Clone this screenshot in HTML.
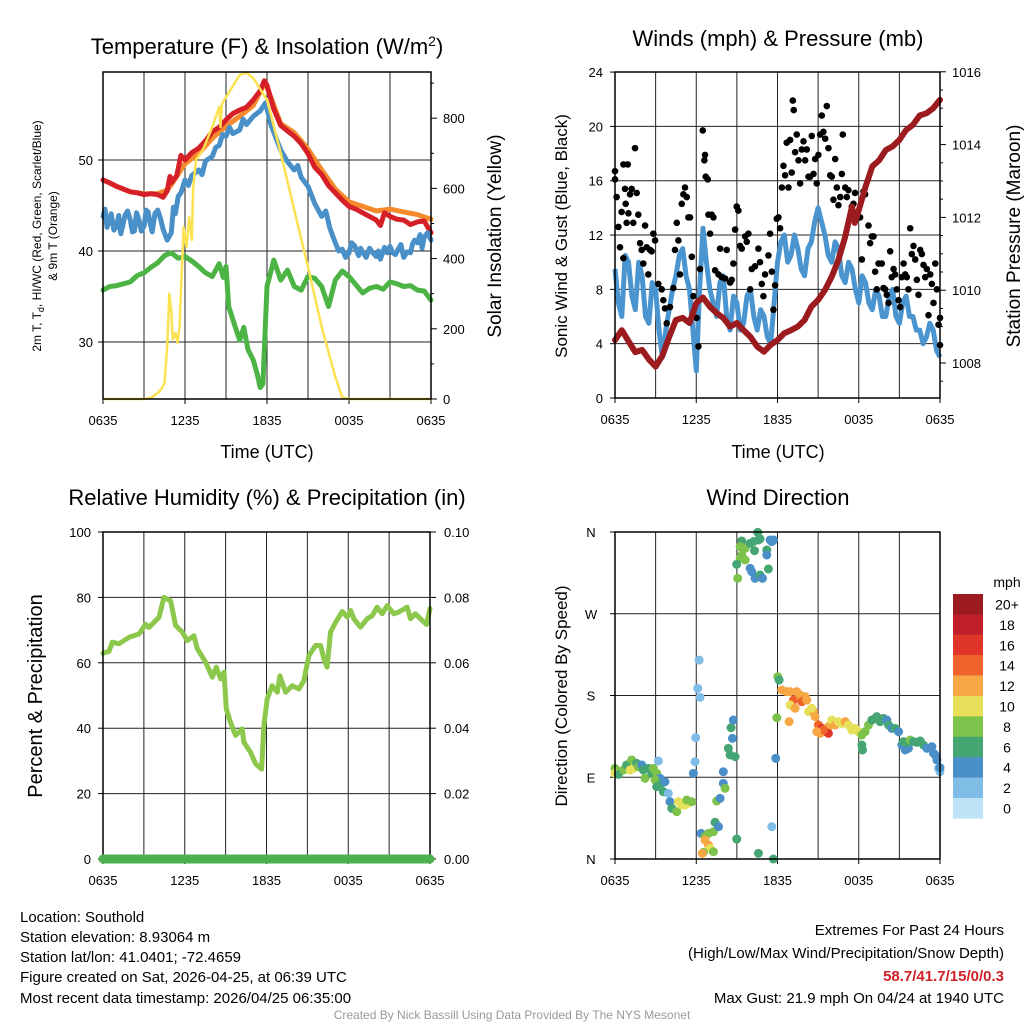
<!DOCTYPE html>
<html><head><meta charset="utf-8">
<style>
html,body{margin:0;padding:0;background:#fff;}
svg{display:block;font-family:"Liberation Sans",Arial,sans-serif;}
</style></head>
<body>
<svg id="chart" width="1024" height="1024" viewBox="0 0 1024 1024" xmlns="http://www.w3.org/2000/svg">
<rect x="0" y="0" width="1024" height="1024" fill="#fff"/>
<g id="g1"></g>
<g id="g2"></g>
<g id="g3"></g>
<g id="g4"></g>
<text x="267" y="54" font-size="22" text-anchor="middle">Temperature (F) &amp; Insolation (W/m<tspan dy="-8" font-size="14">2</tspan><tspan dy="8">)</tspan></text>
<text x="778" y="46" font-size="22" text-anchor="middle">Winds (mph) &amp; Pressure (mb)</text>
<text x="267" y="505" font-size="22" text-anchor="middle">Relative Humidity (%) &amp; Precipitation (in)</text>
<text x="778" y="505" font-size="22" text-anchor="middle">Wind Direction</text>
<text x="267" y="458" font-size="18" text-anchor="middle">Time (UTC)</text>
<text x="778" y="458" font-size="18" text-anchor="middle">Time (UTC)</text>
<text transform="translate(41,236) rotate(-90)" font-size="12" text-anchor="middle">2m T, T<tspan dy="3" font-size="9">d</tspan><tspan dy="-3">, HI/WC (Red, Green, Scarlet/Blue)</tspan></text>
<text transform="translate(57,236) rotate(-90)" font-size="12" text-anchor="middle">&amp; 9m T (Orange)</text>
<text transform="translate(501,236) rotate(-90)" font-size="19" text-anchor="middle">Solar Insolation (Yellow)</text>
<text transform="translate(567,236) rotate(-90)" font-size="17" text-anchor="middle">Sonic Wind &amp; Gust (Blue, Black)</text>
<text transform="translate(1020,236) rotate(-90)" font-size="19" text-anchor="middle">Station Pressure (Maroon)</text>
<text transform="translate(42,696) rotate(-90)" font-size="20" text-anchor="middle">Percent &amp; Precipitation</text>
<text transform="translate(567,696) rotate(-90)" font-size="17" text-anchor="middle">Direction (Colored By Speed)</text>
<g font-size="15">
<text x="20" y="922">Location: Southold</text>
<text x="20" y="942">Station elevation: 8.93064 m</text>
<text x="20" y="962">Station lat/lon: 41.0401; -72.4659</text>
<text x="20" y="982">Figure created on Sat, 2026-04-25, at 06:39 UTC</text>
<text x="20" y="1003">Most recent data timestamp: 2026/04/25 06:35:00</text>
</g>
<g font-size="15" text-anchor="end">
<text x="1004" y="935">Extremes For Past 24 Hours</text>
<text x="1004" y="958">(High/Low/Max Wind/Precipitation/Snow Depth)</text>
<text x="1004" y="981" fill="#d02027" font-weight="bold">58.7/41.7/15/0/0.3</text>
<text x="1004" y="1003">Max Gust: 21.9 mph On 04/24 at 1940 UTC</text>
</g>
<text x="512" y="1019" font-size="12" fill="#999" text-anchor="middle">Created By Nick Bassill Using Data Provided By The NYS Mesonet</text>
</svg>
<script>
// ---- data ----
const xTickHours = [0,6,12,18,24];
const xTickLabels = ["0635","1235","1835","0035","0635"];
const tempTicks = [30,40,50];
const solarTicks = [0,200,400,600,800];
const windTicks = [0,4,8,12,16,20,24];
const pressTicks = [1008,1010,1012,1014,1016];
const rhTicks = [0,20,40,60,80,100];
const precipTicks = ["0.00","0.02","0.04","0.06","0.08","0.10"];
const dirLabels = ["N","E","S","W","N"];
const speedBins = ["0","2","4","6","8","10","12","14","16","18","20+"];
const speedColors = ["#bfe4f7","#80bde6","#4a8fc8","#45a673","#7dc24b","#e6e05a","#f7a845","#f0632a","#e0362a","#c0202a","#9b1b1e"];

const tempRed = [[0,47.8],[0.5,47.5],[1,47.1],[1.5,46.8],[2,46.5],[2.5,46.4],[3,46.2],[3.5,46.3],[4,46.2],[4.4,45.9],[4.7,46.6],[4.9,48.2],[5,47.5],[5.4,48.3],[5.7,50.5],[6,50],[6.5,50.8],[7,51.3],[7.5,52.1],[8,53.1],[8.5,53.6],[9,54.4],[9.5,55.1],[10,55.5],[10.5,55.8],[11,56.6],[11.5,57.6],[11.8,58.7],[12,58.2],[12.5,55.6],[13,53.8],[13.5,53.2],[14,52.6],[14.5,51.8],[15,50.7],[15.5,49.2],[16,48.4],[16.5,47.2],[17,46.4],[17.5,45.6],[18,44.9],[18.5,44.6],[19,44.2],[19.5,43.8],[20,43.4],[20.3,42.8],[20.6,44.2],[21,43.8],[21.5,43.5],[22,43.4],[22.5,42.9],[23,43.2],[23.5,43.3],[24,42]];
const tempOrange = [[0,47.8],[1,47.1],[2,46.5],[3,46.3],[4,46.3],[4.7,46.7],[5,47.3],[6,49.6],[7,50.7],[8,52.4],[9,53.7],[10,54.8],[11,56.0],[11.8,58.4],[12,58.0],[13,54.0],[14,53.0],[15,51.2],[16,48.9],[17,46.8],[18,45.4],[19,44.9],[20,44.4],[21,44.6],[22,44.3],[23,44.0],[24,43.5]];
const tempBlue = [[0,43.8],[0.15,44.6],[0.3,42.6],[0.45,43.4],[0.6,44.1],[0.8,42.3],[1,42.7],[1.15,43.9],[1.3,41.9],[1.45,42.8],[1.6,43.9],[1.8,44.4],[2,43.4],[2.15,42.1],[2.3,42.2],[2.45,44.2],[2.6,43.6],[2.8,42.2],[3,42.7],[3.15,44.5],[3.3,44.3],[3.45,43.0],[3.6,42.1],[3.8,44.1],[4,44.5],[4.2,43.6],[4.4,42.4],[4.7,41.2],[5,42],[5.15,44.8],[5.3,44.1],[5.5,46.0],[5.7,46.4],[6,47.8],[6.25,47.2],[6.5,48.3],[7,48.9],[7.25,48.4],[7.5,49.9],[8,50.4],[8.25,51.4],[8.5,51.6],[8.75,52.8],[9,52.6],[9.25,53.6],[9.5,52.9],[10,53.3],[10.25,54.5],[10.5,53.9],[11,54.8],[11.5,55.4],[11.9,56.3],[12.3,53.8],[13,51.1],[13.5,49.8],[14,48.9],[14.25,49.4],[14.5,48.1],[15,47.1],[15.5,45.2],[16,43.8],[16.3,44.4],[16.6,42.5],[17,40.9],[17.25,40.0],[17.5,40.2],[17.75,39.3],[18,39.8],[18.2,40.9],[18.4,40.6],[18.7,39.5],[18.85,40.3],[19,39.9],[19.25,39.3],[19.5,40.3],[19.75,39.8],[20,39.4],[20.15,40.0],[20.3,39.1],[20.6,40.4],[20.8,39.8],[21,40.5],[21.2,39.8],[21.4,39.6],[21.6,40.2],[21.8,40.7],[22,39.3],[22.25,39.9],[22.5,39.8],[22.65,40.8],[22.8,41.2],[23,40.9],[23.2,41.8],[23.35,40.3],[23.5,41.5],[23.75,42.0],[24,41.2]];
const tempGreen = [[0,35.7],[0.5,36.1],[1,36.2],[1.5,36.4],[2,36.6],[2.5,37.3],[3,37.6],[3.5,38.2],[4,38.7],[4.5,39.5],[5,39.8],[5.5,39.2],[6,39.4],[6.5,38.9],[7,38.3],[7.5,37.6],[8,37.2],[8.5,38.6],[8.8,37.1],[9,38.3],[9.2,33.9],[9.6,32.0],[10,30.2],[10.3,31.6],[10.6,29.2],[11,28],[11.3,26.4],[11.5,25],[11.7,25.4],[12,36.1],[12.5,39],[13,36.8],[13.5,37.9],[14,36.1],[14.5,35.7],[15,37.2],[15.5,37.0],[16,36.1],[16.5,33.9],[17,36.8],[17.5,37.8],[18,37.2],[18.5,36.3],[19,35.4],[19.5,35.9],[20,36.1],[20.5,35.8],[21,36.6],[21.5,36.4],[22,36.1],[22.5,36.2],[23,35.7],[23.5,35.6],[24,34.6]];
const solar = [[0,0],[3,0],[3.5,3],[4,17],[4.3,30],[4.5,45],[4.7,150],[4.85,300],[5.0,250],[5.1,170],[5.3,188],[5.45,160],[5.6,205],[5.8,400],[5.9,490],[6.1,433],[6.2,470],[6.3,518],[6.5,453],[6.6,600],[6.8,681],[7.3,709],[8,775],[8.5,832],[8.6,775],[8.7,840],[9,860],[10,923],[10.5,930],[11,914],[12,852],[13,701],[14,538],[15,376],[16,205],[17,63],[17.5,5],[18,0],[24,0]];

const pressure = [[0,1008.63],[0.5,1008.9],[1,1008.6],[1.5,1008.3],[2,1008.36],[2.5,1008.1],[3,1007.9],[3.5,1008.2],[4,1008.72],[4.5,1009.18],[5,1009.24],[5.5,1009.1],[6,1009.65],[6.5,1009.8],[7,1009.55],[7.5,1009.37],[8,1009.24],[8.5,1009.0],[9,1009.1],[9.5,1008.9],[10,1008.72],[10.5,1008.45],[11,1008.31],[11.5,1008.5],[12,1008.63],[12.5,1008.82],[13,1008.9],[13.5,1009.0],[14,1009.18],[14.5,1009.55],[15,1009.73],[15.5,1010],[16,1010.37],[16.5,1010.83],[17,1011.47],[17.5,1012.3],[17.7,1011.85],[18,1012.2],[18.5,1012.84],[19,1013.4],[19.5,1013.57],[20,1013.85],[20.5,1013.95],[21,1014.13],[21.5,1014.4],[22,1014.54],[22.5,1014.8],[23,1014.86],[23.5,1015.0],[24,1015.23]];
const windSpeed = [[0,9.5],[0.25,7],[0.5,6],[0.75,10.5],[1,10],[1.25,7.5],[1.5,6.5],[1.75,10],[2,9],[2.25,6],[2.5,5.5],[2.75,8.5],[3,8],[3.25,5],[3.5,3],[3.75,5],[4,6.5],[4.25,8],[4.5,9],[4.75,10.5],[5,11],[5.25,9],[5.5,8],[5.75,5],[6,2],[6.25,8],[6.5,12.5],[6.75,10],[7,8],[7.25,7],[7.5,6],[7.75,8.5],[8,9],[8.25,6],[8.5,5],[8.75,7.5],[9,7],[9.25,5],[9.5,5.5],[9.75,7.5],[10,8],[10.25,6],[10.5,5],[10.75,6.5],[11,6],[11.25,4.5],[11.5,4],[11.75,7],[12,10],[12.25,11.5],[12.5,12],[12.75,10],[13,10.5],[13.25,12],[13.5,11],[13.75,9.5],[14,9],[14.25,11],[14.5,11.5],[14.75,13],[15,14],[15.25,13],[15.5,12],[15.75,10.5],[16,10],[16.25,11.5],[16.5,11],[16.75,9],[17,8.5],[17.25,10],[17.5,9.5],[17.75,8],[18,7],[18.25,9],[18.5,8.5],[18.75,7],[19,6.5],[19.25,8],[19.5,7.5],[19.75,6],[20,6],[20.25,7.5],[20.5,8],[20.75,6],[21,5.5],[21.25,7],[21.5,7.5],[21.75,6],[22,6],[22.25,5],[22.5,5],[22.75,4],[23,4.5],[23.25,5.5],[23.5,5],[23.75,3.5],[24,3]];
const gustHours = [0,0,0.12,0.25,0.37,0.49,0.62,0.62,0.94,0.74,0.79,0.86,0.99,1.11,1.23,1.35,1.48,1.6,1.72,1.85,1.97,2.09,2.22,2.34,2.46,2.59,2.71,2.83,2.96,3.2,3.45,3.57,3.69,3.82,4.06,4.31,4.43,4.56,4.68,4.8,4.93,5.05,5.17,5.3,5.42,5.54,5.67,5.79,6.03,6.16,6.28,6.48,6.6,6.65,6.7,6.85,6.9,7.02,7.14,7.27,7.39,7.64,7.76,7.88,8.13,8.25,8.5,8.62,8.74,8.87,8.99,9.11,9.24,9.36,9.61,9.73,9.85,9.98,10.1,10.34,10.59,10.71,10.84,10.96,11.08,11.33,11.45,11.58,11.7,11.82,11.95,12.07,12.19,12.32,12.44,12.56,12.68,12.81,12.93,13.05,13.13,13.2,13.3,13.42,13.55,13.67,13.79,13.92,14.04,14.16,14.29,14.41,14.53,14.66,14.78,14.9,15.02,15.15,15.27,15.39,15.52,15.64,15.76,15.89,16.01,16.13,16.26,16.38,16.5,16.63,16.75,16.82,17,17.12,17.24,17.49,17.61,17.73,17.86,18.1,18.23,18.35,18.47,18.72,18.84,18.97,19.09,19.21,19.33,19.46,19.7,19.83,19.95,20.07,20.2,20.32,20.44,20.57,20.69,20.81,20.94,21.06,21.18,21.31,21.43,21.55,21.67,21.8,21.92,22.04,22.17,22.29,22.41,22.54,22.66,22.78,22.91,23.03,23.15,23.28,23.4,23.52,23.65,23.77,23.89,24,24];
const gustMph = [16.7,16.1,14.8,12.6,11.1,13.7,10.3,17.2,17.2,15.4,14.3,12.9,13.6,15,15.4,12.9,18.4,15.1,13.5,11.4,10.9,9.9,12.7,11.1,9.1,10.9,10.8,12.1,11.6,8.4,8.0,7.2,6.6,5.5,6.7,8.1,10.9,12.9,11.6,9.1,14.3,15,15.5,14.8,13.3,13.3,10.4,7.5,5.9,3.8,9.5,19.7,17.5,17.9,16.3,16.1,13.5,12.1,13.5,13.3,9.4,9.1,11,8.9,8.8,10.9,8.5,8.7,9.9,12.4,14.1,13.8,11.2,11,11.9,11.5,12.1,8.0,9.5,9.7,11,10,8.4,7.5,9.1,10.5,12.1,9.3,6.5,8.3,13.2,13.3,12.5,15.5,17.1,16.4,18.8,15.5,19.0,16.6,21.9,21.2,18.1,19.4,17.5,15.8,18.3,18.9,17.5,18.3,16.3,16.3,19.3,16.5,17.6,15.8,17.9,19.4,20.8,19.6,19.1,21.5,18.4,16.4,16.3,14.6,17.6,15.5,14.2,14.8,16.5,19.4,15.5,14.8,15.3,14.1,14.3,15.1,13.3,13.3,10.2,15.2,15,12.7,11.4,11.9,11.9,9.3,8.0,9.9,9.9,8.1,8.0,7.6,7.0,10.8,8.9,9.5,9.1,8.0,7.2,6.7,8.9,9.9,9.1,8.9,8.0,12.5,10.6,11.2,10.2,8.7,7.6,10.9,10.6,9.8,8.9,9.5,6.1,9.1,8.4,7.0,9.9,8.0,5.4,5.9,3.9];

const rh = [[0,62.9],[0.44,63.5],[0.68,66.3],[1.17,65.8],[1.91,67.8],[2.64,68.8],[3.13,71.8],[3.37,70.8],[4.11,73.9],[4.47,80],[4.96,79],[5.33,71.4],[5.82,69.4],[6.19,66.8],[6.67,68.3],[6.92,64.3],[7.53,60.2],[8.02,55.6],[8.31,58.7],[8.63,55.1],[8.88,57.1],[9.05,45.9],[9.36,41.8],[9.73,37.8],[10.22,39.8],[10.34,35.7],[10.83,32.6],[11.2,29.1],[11.64,27.5],[11.81,40.8],[12.05,49],[12.42,53],[12.79,51],[12.98,56],[13.4,51],[13.89,53],[14.38,52],[14.74,54.5],[15.11,62.2],[15.6,65.3],[15.97,65.3],[16.21,61.2],[16.45,58.7],[16.7,69.4],[17.07,72.4],[17.56,75.7],[17.92,74],[18.17,76],[18.41,73.5],[18.9,70.9],[19.39,73.5],[19.76,74.4],[20.12,77],[20.49,75],[20.86,77.5],[21.34,75],[21.71,75.5],[22.32,77],[22.57,73.5],[22.93,75],[23.42,73],[23.74,71.7],[24,76.6]];
const precip = [[0,0],[24,0]];

const dirData = [[0,99.8,8],[0,94.3,10],[.25,93.2,6],[.62,98,8],[.86,103.5,6],[1.11,98,10],[1.23,109,8],[1.35,99.8,10],[1.6,105.3,6],[1.72,101.6,8],[1.97,103.5,4],[2.09,98,6],[2.22,88.8,8],[2.46,99.8,6],[2.71,94.3,6],[2.83,99.8,8],[3.08,94.3,8],[3.2,107.9,2],[3.33,88.8,4],[2.96,87,8],[3.45,83.3,6],[3.69,85.1,4],[3.08,79.6,6],[3.57,74.1,6],[3.94,72.3,2],[4.06,63.1,4],[4.19,55.8,6],[4.56,52.1,8],[4.68,63.1,10],[4.93,59.4,10],[5.17,59.4,10],[5.42,61.3,10],[5.67,63.1,8],[5.3,64.9,8],
[6.21,219,2],[6.11,187.9,2],[6.28,178,2],[5.96,133.6,2],[5.91,107.1,2],[5.79,94.3,4],[6.35,28.2,4],[6.65,24.6,8],[6.9,28.2,8],[7.27,30.1,8],[7.39,40.4,6],[7.64,35.6,4],[6.65,20.9,12],[6.9,15.4,12],[7.02,11.7,10],[6.53,7.3,8],[6.45,6.2,12],[7.27,8,8],[7.51,63.8,8],[7.76,66.8,4],[8.0,83.3,4],[8.13,77.8,8],[8.0,96.1,4],[8.37,121.8,6],[8.5,114.5,6],[8.87,112.6,6],[8.67,132.8,4],[8.57,144.6,6],[8.74,153,4],[8.99,22,6],[10.59,6.2,6],[11.58,35.6,2],[11.7,0,6],[11.87,110.8,4],
[9.36,350.1,6],[9.61,342,8],[9.98,347.5,6],[10.22,349.4,6],[10.59,351.2,6],[10.54,359.6,6],[10.71,352.3,6],[10.3,339.4,6],[11.21,340.2,6],[9.36,334.7,8],[9.24,331,8],[9.61,329.2,8],[8.99,324.4,6],[9.06,309,8],[9.98,320,4],[10.1,316.3,4],[10.34,309,4],[10.71,312.6,6],[10.89,309,4],[11.33,319.3,6],[11.21,334.7,4],[11.45,351.2,4],[11.7,351.2,4],[11.58,349.4,4],[9.24,343.8,8],
[12.02,200.7,8],[12.12,197,6],[12.32,186,12],[12.68,184.2,12],[12.93,184.2,12],[13.18,175,14],[13.42,184.2,12],[13.67,180.5,12],[14.04,178.7,12],[12.93,169.5,10],[13.3,165.9,12],[13.79,173.2,14],[14.16,175,12],[14.29,162.2,10],[14.66,162.2,12],[14.78,156.7,12],[14.53,165.9,10],[11.95,155.6,8],[12.86,151.2,12],[15.02,147.5,14],[15.27,143.8,16],[15.52,140.2,14],[15.15,138.3,12],[15.76,145.7,12],[16.01,153,10],[16.26,147.5,12],[16.5,151.2,10],[16.75,149.3,10],[17.0,151.2,12],[17.24,147.5,10],[17.49,142,10],[17.73,143.8,10],[17.98,140.2,10],[18.23,136.5,8],[18.47,140.2,8],[18.72,147.5,8],[18.97,153,6],[19.21,154.8,6],[19.33,156.7,6],[19.58,151.2,6],[19.83,154.8,6],[20.07,153,4],[20.2,147.5,6],[20.44,143.8,4],[20.69,143.8,6],[20.94,140.2,4],[18.23,125.5,6],[18.28,120,6],[21.18,125.5,4],[21.43,120,4],[21.67,121.8,4],[21.31,129.2,6],[21.55,128.4,6],[21.8,131,8],[22.04,129.2,6],[22.29,128.4,6],[22.54,129.9,6],[22.78,125.5,6],[23.03,121.8,4],[23.4,123.7,4],[23.52,116.3,4],[23.65,114.5,4],[23.77,109,4],[23.89,99.8,2],[24,96.1,2],[24,100.5,4],[15.76,138.3,16],[15.39,142,14],[14.9,140.2,12]];

// ---- helpers ----
const NS = "http://www.w3.org/2000/svg";
function mk(parent, tag, attrs, name){
  const e = document.createElementNS(NS, tag);
  for (const k in attrs) e.setAttribute(k, attrs[k]);
  
  
  parent.appendChild(e);
  return e;
}
function txt(parent, x, y, s, anchor, size, name){
  const t = mk(parent, 'text', {x:x, y:y, 'text-anchor':anchor, 'font-size':size}, name);
  t.textContent = s;
  return t;
}
function pathFrom(pts, fx, fy){
  return pts.map((p,i)=>(i?'L':'M')+fx(p[0]).toFixed(1)+' '+fy(p[1]).toFixed(1)).join(' ');
}
function frame(g, P, hLines, fy){
  const X = h => P.L + h/24*(P.R-P.L);
  for (let h=3; h<24; h+=3){
    mk(g,'line',{x1:X(h),x2:X(h),y1:P.T,y2:P.B,stroke:'#222','stroke-width':1},'x-gridline');
  }
  hLines.forEach(v=>{
    const y = fy(v);
    mk(g,'line',{x1:P.L,x2:P.R,y1:y,y2:y,stroke:'#222','stroke-width':1},'y-gridline');
  });
  xTickHours.forEach((h,i)=>{
    mk(g,'line',{x1:X(h),x2:X(h),y1:P.B,y2:P.B+5,stroke:'#000','stroke-width':1},'x-tick');
    txt(g, X(h), P.B+26, xTickLabels[i], 'middle', 13, 'x-tick-label');
  });
  return X;
}
function border(g,P){
  mk(g,'rect',{x:P.L,y:P.T,width:P.R-P.L,height:P.B-P.T,fill:'none',stroke:'#000','stroke-width':1.5},'plot-frame');
}

// ---- panel 1 ----
(function(){
  const g = document.getElementById('g1');
  const P = {L:103,R:431,T:72,B:399};
  const yT = F => 160 + (50-F)*9.1;
  const yS = W => 399 - W*0.351;
  const X = frame(g,P,tempTicks,yT);
  tempTicks.forEach(v=>{
    mk(g,'line',{x1:P.L-5,x2:P.L,y1:yT(v),y2:yT(v),stroke:'#000'},'y-tick');
    txt(g, P.L-10, yT(v)+5, String(v), 'end', 13, 'y-tick-label');
  });
  for (let w=0; w<=900; w+=100){
    const maj = solarTicks.indexOf(w)>=0;
    mk(g,'line',{x1:P.R,x2:P.R+(maj?6:3),y1:yS(w),y2:yS(w),stroke:'#000'},'y2-tick');
    if (maj) txt(g, P.R+12, yS(w)+5, String(w), 'start', 13, 'y2-tick-label');
  }
  const series = [[tempOrange,'#f58a2c','orange-9m-temp-line'],[tempRed,'#d62027','red-temp-line'],[tempBlue,'#4a90c8','blue-hiwc-line'],[tempGreen,'#4cb445','green-dewpoint-line']];
  series.forEach(s=>{
    mk(g,'path',{d:pathFrom(s[0],X,yT),fill:'none',stroke:s[1],'stroke-width':5,'stroke-linejoin':'round','stroke-linecap':'round'},s[2]);
  });
  mk(g,'path',{d:pathFrom(solar,X,yS),fill:'none',stroke:'#fce251','stroke-width':2.5,'stroke-linejoin':'round'},'solar-line');
  border(g,P);
})();

// ---- panel 2 ----
(function(){
  const g = document.getElementById('g2');
  const P = {L:615,R:940,T:72,B:398};
  const yW = m => 398 - m*13.58;
  const yP = p => 363 - (p-1008)*36.4;
  const X = frame(g,P,windTicks.slice(1,-1),yW);
  windTicks.forEach(v=>{
    mk(g,'line',{x1:P.L-5,x2:P.L,y1:yW(v),y2:yW(v),stroke:'#000'},'y-tick');
    txt(g, P.L-12, yW(v)+5, String(v), 'end', 13, 'y-tick-label');
  });
  for (let p=1007.5; p<=1016; p+=0.5){
    const maj = pressTicks.indexOf(p)>=0;
    mk(g,'line',{x1:P.R,x2:P.R+(maj?6:3),y1:yP(p),y2:yP(p),stroke:'#000'},'y2-tick');
    if (maj) txt(g, P.R+12, yP(p)+5, String(p), 'start', 13, 'y2-tick-label');
  }
  mk(g,'path',{d:pathFrom(windSpeed,X,yW),fill:'none',stroke:'#4a95d0','stroke-width':5,'stroke-linejoin':'round'},'sonic-wind-line');
  gustHours.forEach((h,i)=>{
    mk(g,'circle',{cx:X(h),cy:yW(gustMph[i]),r:3.3,fill:'#000'},'gust-point');
  });
  mk(g,'path',{d:pathFrom(pressure,X,yP),fill:'none',stroke:'#9b1b1e','stroke-width':6,'stroke-linejoin':'round','stroke-linecap':'round'},'pressure-line');
  border(g,P);
})();

// ---- panel 3 ----
(function(){
  const g = document.getElementById('g3');
  const P = {L:103,R:430,T:532,B:859};
  const yR = r => 859 - r*3.27;
  const X = frame(g,P,rhTicks.slice(1,-1),yR);
  rhTicks.forEach((v,i)=>{
    mk(g,'line',{x1:P.L-5,x2:P.L,y1:yR(v),y2:yR(v),stroke:'#000'},'y-tick');
    txt(g, P.L-12, yR(v)+5, String(v), 'end', 13, 'y-tick-label');
    mk(g,'line',{x1:P.R,x2:P.R+6,y1:yR(v),y2:yR(v),stroke:'#000'},'y2-tick');
    txt(g, P.R+14, yR(v)+5, precipTicks[i], 'start', 13, 'y2-tick-label');
  });
  mk(g,'path',{d:pathFrom(rh,X,yR),fill:'none',stroke:'#8cc84b','stroke-width':5,'stroke-linejoin':'round','stroke-linecap':'round'},'humidity-line');
  border(g,P);
  mk(g,'path',{d:pathFrom(precip,X,v=>859-v*3270),fill:'none',stroke:'#4caf50','stroke-width':9,'stroke-linecap':'round'},'precipitation-line');
})();

// ---- panel 4 ----
(function(){
  const g = document.getElementById('g4');
  const P = {L:615,R:940,T:532,B:859};
  const yD = d => 859 - d/360*327;
  const X = frame(g,P,[90,180,270],yD);
  dirLabels.forEach((s,i)=>{
    const d = [0,90,180,270,360][i];
    mk(g,'line',{x1:P.L-5,x2:P.L,y1:yD(d),y2:yD(d),stroke:'#000'},'y-tick');
    txt(g, P.L-24, yD(d)+5, s, 'middle', 13, 'y-tick-label');
  });
  dirData.forEach(p=>{
    const bin = Math.min(10, Math.floor(p[2]/2));
    mk(g,'circle',{cx:X(p[0]),cy:yD(p[1]),r:4.5,fill:speedColors[bin]},'direction-point');
  });
  border(g,P);
  const cb = mk(g,'g',{},'speed-colorbar');
  txt(cb, 1007, 587, 'mph', 'middle', 14, 'colorbar-title');
  for (let i=0;i<11;i++){
    const idx = 10-i;
    const y = 594 + i*20.4;
    mk(cb,'rect',{x:953,y:y,width:30,height:20.6,fill:speedColors[idx]},'colorbar-box');
    txt(cb, 1007, y+15.5, speedBins[idx], 'middle', 14, 'colorbar-label');
  }
})();
</script>
</body></html>
